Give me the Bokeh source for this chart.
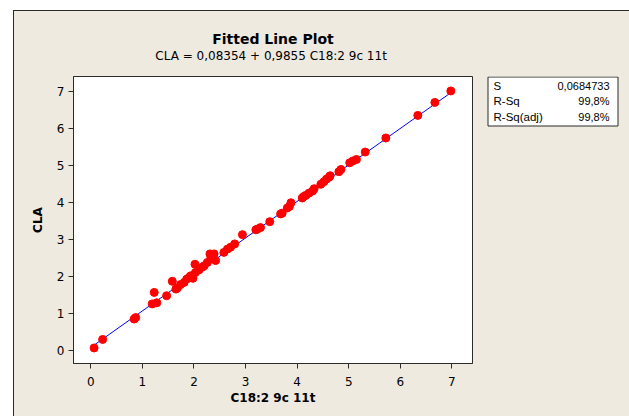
from bokeh.plotting import figure
from bokeh.layouts import row, column
from bokeh.models import Range1d, FixedTicker
from bokeh.core.properties import value
from bokeh.embed import file_html
from bokeh.resources import INLINE

# ---- data ----
c18_2 = [0.064, 0.23, 0.84, 0.87, 1.19, 1.23, 1.28, 1.47, 1.58, 1.65, 1.68,
         1.74, 1.81, 1.86, 1.91, 1.94, 1.98, 2.02, 2.03, 2.10, 2.16, 2.20,
         2.26, 2.31, 2.33, 2.36, 2.39, 2.42, 2.58, 2.65, 2.71, 2.79, 2.94,
         3.20, 3.23, 3.29, 3.47, 3.68, 3.71, 3.81, 3.85, 3.88, 4.10, 4.13,
         4.17, 4.23, 4.30, 4.33, 4.46, 4.52, 4.57, 4.62, 4.64, 4.81, 4.85,
         5.02, 5.08, 5.15, 5.32, 5.72, 6.34, 6.67, 6.98]
cla = [0.07, 0.30, 0.85, 0.89, 1.26, 1.57, 1.29, 1.48, 1.87, 1.66, 1.69,
       1.78, 1.84, 1.93, 1.98, 2.02, 1.95, 2.33, 2.11, 2.18, 2.25, 2.29,
       2.38, 2.61, 2.52, 2.59, 2.61, 2.43, 2.65, 2.74, 2.79, 2.88, 3.13,
       3.26, 3.28, 3.32, 3.48, 3.69, 3.71, 3.85, 3.89, 3.99, 4.12, 4.16,
       4.19, 4.25, 4.31, 4.37, 4.49, 4.56, 4.63, 4.68, 4.72, 4.83, 4.89,
       5.07, 5.12, 5.16, 5.36, 5.74, 6.35, 6.70, 7.01]
intercept = 0.08354
slope = 0.9855
x_ticks = [0, 1, 2, 3, 4, 5, 6, 7]
y_ticks = [0, 1, 2, 3, 4, 5, 6, 7]
stat_names = ["S", "R-Sq", "R-Sq(adj)"]
stat_values = ["0,0684733", "99,8%", "99,8%"]
title_text = "Fitted Line Plot"
subtitle_text = "CLA =  0,08354 + 0,9855 C18:2 9c 11t"
x_label = "C18:2 9c 11t"
y_label = "CLA"

FONT = "DejaVu Sans"
STAT_FONT = "Liberation Sans"
BG = "#EEEAE0"
DARK = "#2b2b2b"
W_MAIN, W_SIDE = 466, 149
TITLE_H = 54
H = 351
LEFT, RIGHT, TOP, BOTTOM = 59, 8, 11, 53
FRAME_W = W_MAIN - LEFT - RIGHT


def blank(width, height, **kw):
    f = figure(width=width, height=height, output_backend="svg",
               toolbar_location=None, x_axis_location=None,
               y_axis_location=None, **kw)
    f.border_fill_color = BG
    f.background_fill_color = BG
    f.outline_line_color = None
    f.grid.visible = False
    return f


# ---- title strip ----
t = blank(W_MAIN + W_SIDE, TITLE_H, x_range=Range1d(0, FRAME_W),
          y_range=Range1d(TITLE_H, 0), min_border_left=LEFT,
          min_border_right=RIGHT + W_SIDE, min_border_top=0,
          min_border_bottom=0)
t.text(x=[FRAME_W / 2], y=[27], text=[title_text], text_font=value(FONT),
       text_font_size="14px", text_font_style="bold", text_align="center",
       text_baseline="middle", text_color="black")
t.text(x=[FRAME_W / 2], y=[44], text=[subtitle_text], text_font=value(FONT),
       text_font_size="12px", text_align="center", text_baseline="middle",
       text_color="black")

# ---- main plot ----
p = figure(width=W_MAIN, height=H, output_backend="svg", toolbar_location=None,
           x_range=Range1d(-0.335, 7.40), y_range=Range1d(-0.35, 7.40),
           min_border_left=LEFT, min_border_right=RIGHT, min_border_top=TOP,
           min_border_bottom=BOTTOM)
p.border_fill_color = BG
p.background_fill_color = "white"
p.outline_line_color = DARK
p.outline_line_width = 1
p.grid.visible = False

for ax, ticks in ((p.xaxis, x_ticks), (p.yaxis, y_ticks)):
    ax.ticker = FixedTicker(ticks=ticks)
    ax.minor_tick_line_color = None
    ax.major_tick_in = 0
    ax.major_tick_out = 5
    ax.major_tick_line_color = DARK
    ax.axis_line_color = DARK
    ax.major_label_text_font = FONT
    ax.major_label_text_font_size = "12px"
    ax.major_label_text_color = "black"
    ax.axis_label_text_font = FONT
    ax.axis_label_text_font_size = "12px"
    ax.axis_label_text_font_style = "bold"
    ax.axis_label_text_color = "black"
p.xaxis.axis_label = x_label
p.yaxis.axis_label = y_label
p.xaxis.major_label_standoff = 8
p.xaxis.axis_label_standoff = 2
p.yaxis.major_label_standoff = 4
p.yaxis.axis_label_standoff = 9

x0, x1 = min(c18_2), max(c18_2)
p.line([x0, x1], [intercept + slope * x0, intercept + slope * x1],
       line_color="#0000FF", line_width=1)
p.scatter(c18_2, cla, size=8, fill_color="#FF0000", line_color="#FF0000")

# ---- statistics box ----
frame_h = H - TOP - BOTTOM
s = blank(W_SIDE, H, x_range=Range1d(0, W_SIDE), y_range=Range1d(frame_h, 0),
          min_border_left=0, min_border_right=0, min_border_top=TOP,
          min_border_bottom=BOTTOM)
s.quad(left=[7.5], right=[137.5], top=[0.5], bottom=[49.5],
       fill_color="white", line_color=DARK, line_width=1)
rows_y = [9.5, 24.5, 40]
s.text(x=[13] * 3, y=rows_y, text=stat_names, text_font=value(STAT_FONT),
       text_font_size="11.5px", text_baseline="middle", text_align="left",
       text_color="black")
s.text(x=[129] * 3, y=rows_y, text=stat_values, text_font=value(STAT_FONT),
       text_font_size="11px", text_baseline="middle", text_align="right",
       text_color="black")

layout = column(t, row(p, s))
layout.margin = (10, 0, 0, 13)
layout.styles = {"border-left": f"1px solid {DARK}",
                 "border-top": f"1px solid {DARK}",
                 "background-color": BG}

open("out.html", "w").write(file_html(layout, INLINE))
